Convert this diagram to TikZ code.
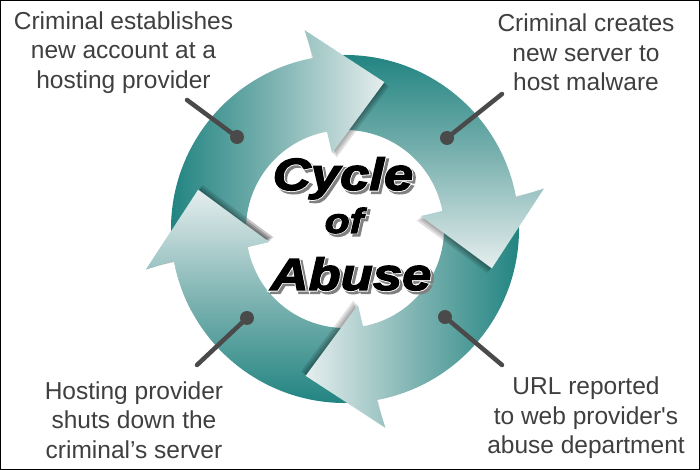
\documentclass[tikz,border=0pt]{standalone}
\usepackage{fontspec}
\setmainfont{Liberation Sans}[Ligatures=TeXOff]
\newfontfamily\titlefont[FakeBold=3,FakeStretch=1.17]{Liberation Sans Bold Italic}
\newfontfamily\titleedgefont[FakeBold=7,FakeStretch=1.17]{Liberation Sans Bold Italic}

\definecolor{tealdark}{HTML}{1B817E}
\definecolor{tealmid}{HTML}{7DB3B1}
\definecolor{teallight}{HTML}{E6EEEE}
\definecolor{pingray}{HTML}{4A4A4A}
\definecolor{labelgray}{HTML}{3F3F3F}

\tikzstyle{sweep} = [left color=tealdark, right color=teallight, middle color=tealmid]
\tikzstyle{blurb} = [align=center, text=labelgray, font=\fontsize{24.5}{29.5}\selectfont, inner sep=0pt]
\tikzstyle{knob} = [circle, fill=pingray, minimum size=14pt, inner sep=0pt]
\tikzstyle{stalk} = [line width=4.5pt, pingray, line cap=round]
\tikzstyle{title} = [anchor=base, inner sep=0pt]

% one arrow of the ring, head at the top, turned for the others
\newcommand{\cyclearrow}{(185:174) arc[start angle=185, end angle=100.5, radius=174]
    -- (101.5:203) -- (75:152) -- (99.7:77) -- (100.5:99)
    arc[start angle=100.5, end angle=185, radius=99] -- cycle}
\newcommand{\cyclehead}{(101.5:203) -- (75:152) -- (99.7:77) -- cycle}

\begin{document}
\begin{tikzpicture}[x=1pt, y=1pt]
\useasboundingbox (-345,-241) rectangle (355,229);

% ring of four arrows: left, bottom, right, top
\foreach \r in {90,180,270,0} {
    \begin{scope}[transform canvas={rotate=\r}]
        \foreach \d in {1.5,3,4.5}
            \fill[black, opacity=0.12, shift={(\d,-\d)}] \cyclehead;
        \shade[sweep] \cyclearrow;
    \end{scope}
}
% left head goes back over the tail of the top arrow
\begin{scope}[transform canvas={rotate=90}]
    \clip (0,0) -- (60:240) arc[start angle=60, end angle=118, radius=240] -- cycle;
    \foreach \d in {1.5,3,4.5}
        \fill[black, opacity=0.12, shift={(\d,-\d)}] \cyclehead;
    \shade[sweep] \cyclearrow;
\end{scope}

% title in the middle
\foreach \w/\s/\x/\y/\n in {Cycle/45/-2/39/cycle, of/35/-1/-4/of, Abuse/45/6/-61/abuse} {
    \node[title, text=black!50, font=\titleedgefont\fontsize{\s}{\s}\selectfont]
        (\n-shadow) at (\x+2.5,\y-2.5) {\w};
    \node[title, text=white, font=\titleedgefont\fontsize{\s}{\s}\selectfont]
        (\n-edge) at (\x,\y) {\w};
    \node[title, font=\titlefont\fontsize{\s}{\s}\selectfont]
        (\n) at (\x,\y) {\w};
}

% the four steps
\node[blurb] (account) at (-221.5,176.5) {Criminal establishes\\new account at a\\hosting provider};
\node[blurb] (server) at (241,176.5) {Criminal creates\\new server to\\host malware};
\node[blurb] (report) at (241,-188.7) {URL reported\\to web provider's\\abuse department};
\node[blurb] (shutdown) at (-211,-191.2) {Hosting provider\\shuts down the\\criminal’s server};

% pointers into the ring
\coordinate (account-end) at (-158,129);
\coordinate (server-end) at (157,135);
\coordinate (report-end) at (157,-136);
\coordinate (shutdown-end) at (-148,-136);
\node[knob] (account-dot) at (-108,92) {};
\node[knob] (server-dot) at (102,91) {};
\node[knob] (report-dot) at (100,-88) {};
\node[knob] (shutdown-dot) at (-98,-89) {};
\draw[stalk] (account-end) -- (account-dot.center);
\draw[stalk] (server-end) -- (server-dot.center);
\draw[stalk] (report-end) -- (report-dot.center);
\draw[stalk] (shutdown-end) -- (shutdown-dot.center);

\draw[line width=1.5pt] (-344.25,-240.25) rectangle (354.25,228.25);
\end{tikzpicture}
\end{document}
